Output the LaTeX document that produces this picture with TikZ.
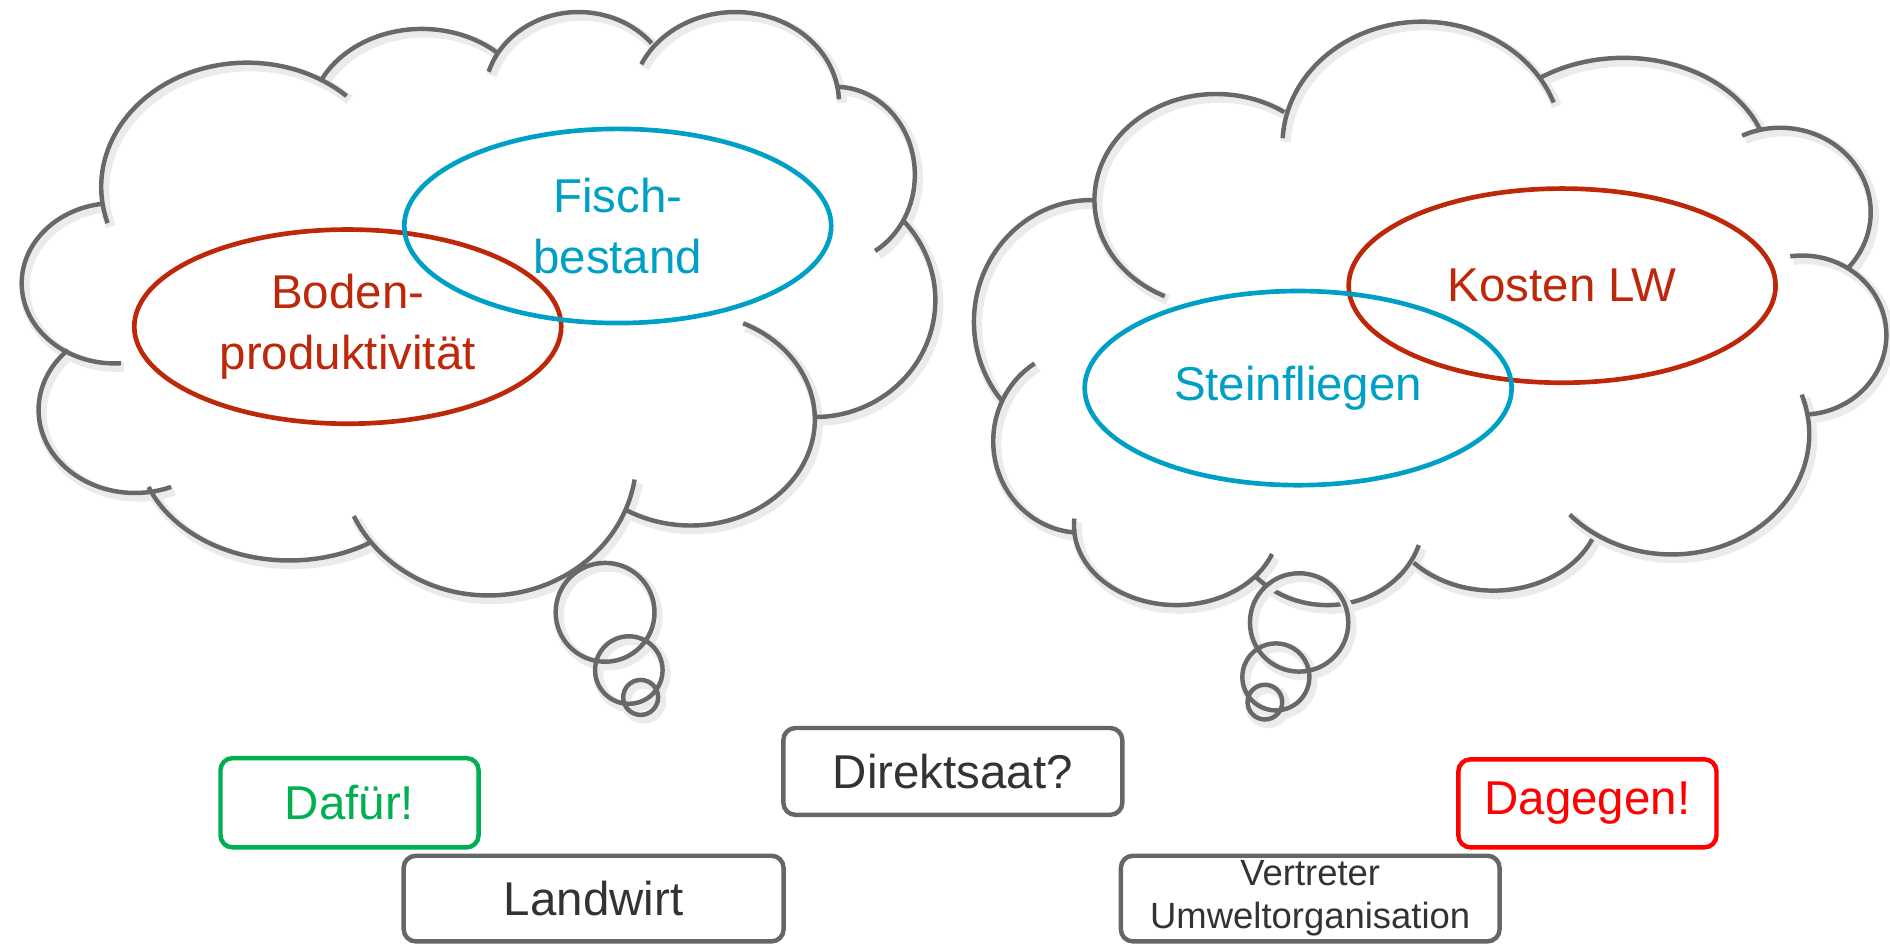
\documentclass[tikz,border=0pt]{standalone}
\usepackage{fontspec}
\setmainfont{Liberation Sans}
\usetikzlibrary{shapes.geometric}
\definecolor{cloudgray}{RGB}{104,104,104}
\definecolor{boxgray}{RGB}{102,102,102}
\definecolor{txtgray}{RGB}{51,51,51}
\definecolor{fishblue}{RGB}{0,160,198}
\definecolor{soilred}{RGB}{190,40,10}
\definecolor{progreen}{RGB}{0,176,80}
\definecolor{conred}{RGB}{255,0,0}
\tikzset{
  cloudline/.style={draw=cloudgray, line width=1.05pt,
    preaction={draw=black!8, line width=2.4pt, transform canvas={shift={(0.025cm,-0.03cm)}}}},
  topic/.style={ellipse, draw, line width=1.1pt, inner sep=0pt, minimum width=3.54cm, minimum height=1.61cm, align=center, font=\fontsize{11.2}{14.2}\selectfont},
  role/.style={rectangle, rounded corners=0.1cm, draw=boxgray, line width=1.05pt, text=txtgray, inner sep=0pt, align=center, font=\fontsize{11.2}{14.2}\selectfont},
}
% centre x / centre y / x radius / y radius / start / end of each bump
\newcommand\bumpsleft{95/235/77/66.5/263/86, 205/155/121/103/163/313, 350/100/93/76/207/312,
  480/80/78/70/197/321, 610/85/86/75/205/358, 693/145/66/73/270/420, 676/249/100/97/-42/90,
  573/348/103/88/-65/121, 405/380/123/114/9/155, 240/370/125/95/57/159, 112/340/80/69/226/68}
\newcommand\bumpsright{905/267/97/101/272/140, 1009/166/101/88/115/304, 1180/120/116/102/183/340,
  1347/140/121/92/235/340, 1477/176/75/70/245/401, 1495/278/70/66/262/447, 1387/360/114/100/-19/138,
  1239/420/89/70/23/138, 1101/430/80/72/18/137, 976/436/85/66/21/185, 897/366/73/76/93/238}
\begin{document}
\begin{tikzpicture}[x=0.01cm, y=-0.01cm]
\useasboundingbox (0,0) rectangle (1568,783);
\draw[cloudline] \foreach \cx/\cy/\rx/\ry/\a/\b in \bumpsleft {
  ({\cx+\rx*cos(\a)},{\cy+\ry*sin(\a)}) arc[start angle=\a, end angle=\b, x radius=\rx, y radius=\ry]};
\draw[cloudline] \foreach \cx/\cy/\rx/\ry/\a/\b in \bumpsright {
  ({\cx+\rx*cos(\a)},{\cy+\ry*sin(\a)}) arc[start angle=\a, end angle=\b, x radius=\rx, y radius=\ry]};
\draw[cloudline] (502,508) circle[radius=41] (521.7,555.9) circle[radius=28] (531.5,578.6) circle[radius=14.5];
\draw[cloudline] (1077.8,516.4) circle[radius=40.8] (1058.5,561.6) circle[radius=27.8] (1049.4,582.5) circle[radius=14.4];

\node[topic, draw=soilred, text=soilred] (boden) at (288.5,271) {Boden-\\produktivität};
\node[topic, draw=fishblue, text=fishblue] (fisch) at (512.5,187.5) {Fisch-\\bestand};
\node[topic, draw=soilred, text=soilred] (kosten) at (1296,237) {Kosten LW};
\node[topic, draw=fishblue, text=fishblue] (stein) at (1077,322) {Steinfliegen};

\node[role, minimum width=2.81cm, minimum height=0.72cm] (frage) at (790.5,640) {Direktsaat?};
\node[role, draw=progreen, text=progreen, minimum width=2.14cm, minimum height=0.74cm] (dafuer) at (290,666) {Dafür!};
\node[role, draw=conred, text=conred, minimum width=2.14cm, minimum height=0.73cm] (dagegen) at (1317,666.5) {Dagegen!};
\node[role, minimum width=3.15cm, minimum height=0.71cm] (landwirt) at (492.5,745.5) {Landwirt};
\node[role, minimum width=3.14cm, minimum height=0.71cm, font=\fontsize{8.6}{10.2}\selectfont] (umwelt) at (1087,745.5) {Vertreter\\Umweltorganisation};
\end{tikzpicture}
\end{document}
